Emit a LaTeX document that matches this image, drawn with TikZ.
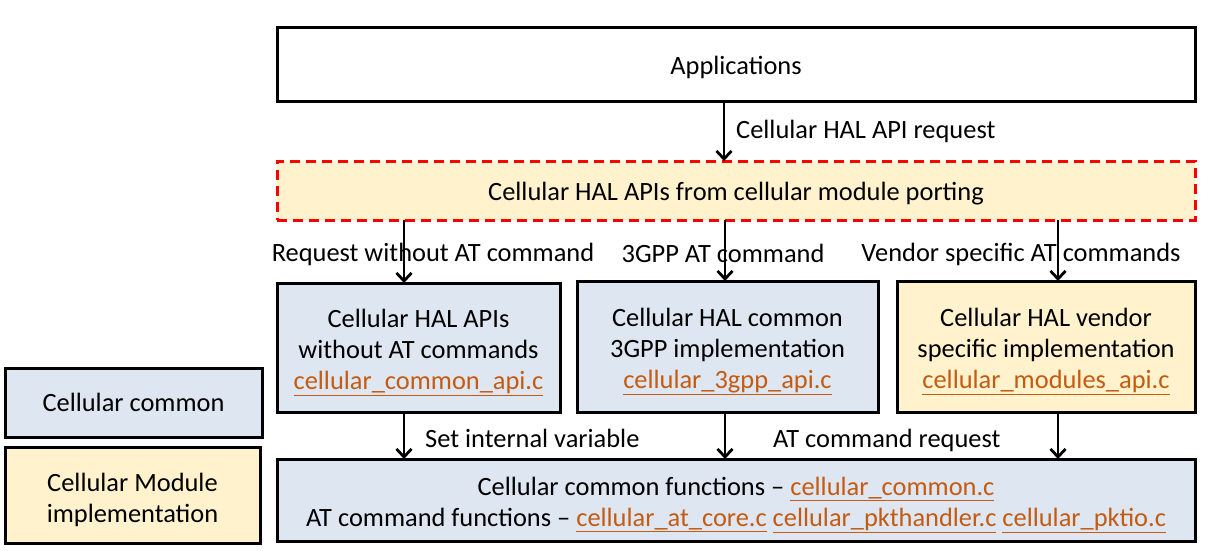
\documentclass[tikz,border=0pt]{standalone}
\usepackage{fontspec}
\setmainfont{Carlito}
\usetikzlibrary{arrows.meta}
\definecolor{bluefill}{HTML}{DEE6F1}
\definecolor{yelfill}{HTML}{FFF2CC}
\definecolor{fileor}{HTML}{C55A11}
\definecolor{dashred}{HTML}{FF0000}
\newcommand{\fname}[1]{\textcolor{fileor}{\underline{#1}}}
\newcommand{\lowstrut}{\rule{0pt}{28pt}}
\begin{document}
\begin{tikzpicture}[x=1pt,y=-1pt,
  font=\fontsize{26.4}{31}\selectfont,
  boxbase/.style={draw=black,line width=3pt,inner sep=0pt,outer sep=0pt,align=center},
  lowtext/.style={execute at begin node={\rule{0pt}{25pt}}},
  bluebox/.style={boxbase,fill=bluefill},
  yelbox/.style={boxbase,fill=yelfill},
  arr/.style={-{Straight Barb[length=8pt,width=15pt]},line width=2.8pt},
  lbl/.style={inner sep=0pt}]
\useasboundingbox (0,0) rectangle (1212,551);
\node[boxbase,lowtext,fill=white,minimum width=918pt,minimum height=73pt] (app) at (736,64.5) {Applications};
\node[yelbox,lowtext,draw=dashred,dash pattern=on 10pt off 6pt,minimum width=918pt,minimum height=59pt] (hal) at (736,190.5) {Cellular HAL APIs from cellular module porting};
\node[bluebox,minimum width=283pt,minimum height=129pt] (b1) at (418.5,347.5) {\lowstrut Cellular HAL APIs\\without AT commands\\\fname{cellular\_common\_api.c}};
\node[bluebox,minimum width=301pt,minimum height=131pt] (b2) at (727.5,346.5) {\lowstrut Cellular HAL common\\3GPP implementation\\\fname{cellular\_3gpp\_api.c}};
\node[yelbox,minimum width=298pt,minimum height=131pt] (b3) at (1046,346.5) {\lowstrut Cellular HAL vendor\\specific implementation\\\fname{cellular\_modules\_api.c}};
\node[bluebox,minimum width=918pt,minimum height=82pt] (bot) at (736,500) {\lowstrut Cellular common functions -- \fname{cellular\_common.c}\\AT command functions -- \fname{cellular\_at\_core.c} \fname{cellular\_pkthandler.c} \fname{cellular\_pktio.c}};
\node[bluebox,minimum width=257pt,minimum height=69pt] (lg1) at (133.5,402.5) {Cellular common};
\node[yelbox,minimum width=255pt,minimum height=96pt] (lg2) at (132.5,495) {\lowstrut Cellular Module\\implementation};
\coordinate (xa) at (724,0);
\coordinate (xl) at (404,0);
\coordinate (xm) at (725,0);
\coordinate (xr) at (1058,0);
\draw[arr] (app.south -| xa) -- (hal.north -| xa);
\draw[arr] (hal.south -| xl) -- (b1.north -| xl);
\draw[arr] (hal.south -| xm) -- (b2.north -| xm);
\draw[arr] (hal.south -| xr) -- (b3.north -| xr);
\draw[arr] (b1.south -| xl) -- (bot.north -| xl);
\draw[arr] (b2.south -| xm) -- (bot.north -| xm);
\draw[arr] (b3.south -| xr) -- (bot.north -| xr);
\node[lbl,anchor=west] (l0) at (736,131.5) {Cellular HAL API request};
\node[lbl] (l1) at (433,254.5) {Request without AT command};
\node[lbl] (l2) at (723,253) {3GPP AT command};
\node[lbl] (l3) at (1021,254.5) {Vendor specific AT commands};
\node[lbl,anchor=west] (l4) at (425,438) {Set internal variable};
\node[lbl,anchor=west] (l5) at (773,440) {AT command request};
\end{tikzpicture}
\end{document}
